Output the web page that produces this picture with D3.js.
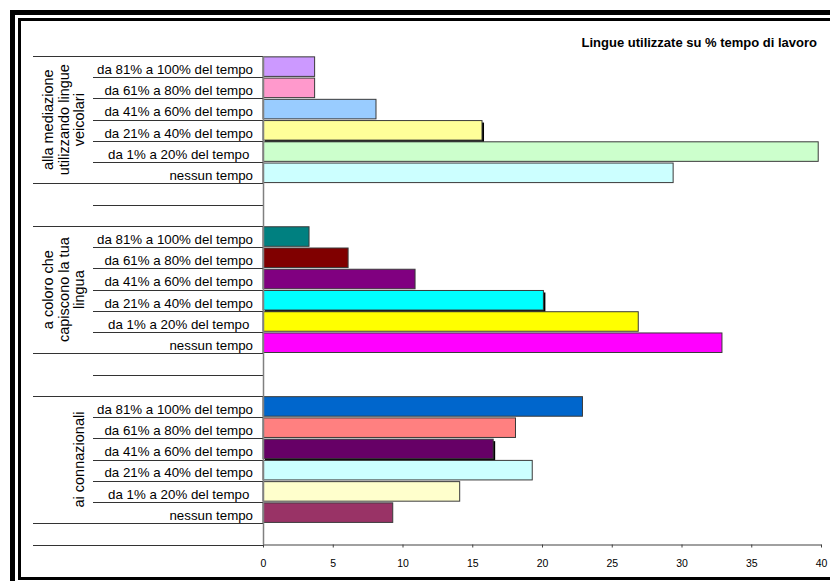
<!DOCTYPE html>
<html>
<head>
<meta charset="utf-8">
<script src="https://cdn.jsdelivr.net/npm/d3@7"></script>
<style>
  html, body { margin: 0; padding: 0; background: #fff; overflow: hidden; }
  svg { display: block; font-family: "Liberation Sans", Arial, sans-serif; }
</style>
</head>
<body>
<svg id="chart" width="830" height="581"></svg>
<script>
// Groups of respondents (top to bottom) and their wrapped labels
const groupNames = [
  "alla mediazione utilizzando lingue veicolari",
  "a coloro che capiscono la tua lingua",
  "ai connazionali"
];
const groupLabelLines = [
  ["alla mediazione", "utilizzando lingue", "veicolari"],
  ["a coloro che", "capiscono la tua", "lingua"],
  ["ai connazionali"]
];

// Share of working time (top to bottom inside each group)
const timeLevels = [
  "da 81% a 100% del tempo",
  "da 61% a 80% del tempo",
  "da 41% a 60% del tempo",
  "da 21% a 40% del tempo",
  "da 1% a 20% del tempo ",
  "nessun tempo"
];

// Percentages for each group, in the order of timeLevels
const valuesMediazione   = [3.7, 3.7, 8.1, 15.7, 39.8, 29.4];
const valuesCapiscono    = [3.3, 6.1, 10.9, 20.1, 26.9, 32.9];
const valuesConnazionali = [22.9, 18.1, 16.5, 19.3, 14.1, 9.3];
const groupValues = [valuesMediazione, valuesCapiscono, valuesConnazionali];

// Value axis tick labels
const tickValues = [0, 5, 10, 15, 20, 25, 30, 35, 40];

const title = "Lingue utilizzate su % tempo di lavoro";

// Fill colours per group, in the order of timeLevels
const coloursMediazione   = ["#CC99FF", "#FF99CC", "#99CCFF", "#FFFF99", "#CCFFCC", "#CCFFFF"];
const coloursCapiscono    = ["#008080", "#800000", "#800080", "#00FFFF", "#FFFF00", "#FF00FF"];
const coloursConnazionali = ["#0066CC", "#FF8080", "#660066", "#CCFFFF", "#FFFFCC", "#993366"];
const groupColours = [coloursMediazione, coloursCapiscono, coloursConnazionali];

// Bars drawn with a drop shadow: [group index, level index]
const shadowedBars = [[0, 3], [1, 3], [2, 2]];

// ---- category rows: each group, then blank spacer rows -----------------
// Spacer groups: two rows between groups, one row below the last group
const rows = [];
const spans = []; // {start, end, label lines or null}
groupNames.forEach((g, gi) => {
  const start = rows.length;
  timeLevels.forEach((lvl, li) => {
    rows.push({ key: "r" + rows.length, group: gi, level: li, label: lvl,
                value: groupValues[gi][li], colour: groupColours[gi][li] });
  });
  spans.push({ start, end: rows.length, lines: groupLabelLines[gi] });
  const blanks = gi < groupNames.length - 1 ? 2 : 1;
  const bStart = rows.length;
  for (let b = 0; b < blanks; b++) rows.push({ key: "r" + rows.length, blank: true });
  spans.push({ start: bStart, end: rows.length, lines: null });
});

const svg = d3.select("#chart");

// Double frame around the chart (right and lower outer edges run past the page)
svg.append("rect").attr("x", 12.5).attr("y", 12.5).attr("width", 900).attr("height", 600)
  .attr("fill", "none").attr("stroke", "#000").attr("stroke-width", 5);
svg.append("rect").attr("x", 19.5).attr("y", 19.5).attr("width", 890).attr("height", 559)
  .attr("fill", "none").attr("stroke", "#000").attr("stroke-width", 3);

const plotTop = 56, plotBottom = 544.5, plotLeft = 263, plotRight = 821;
const outerLeft = 33, innerLeft = 93;

const x = d3.scaleLinear().domain([0, 40]).range([plotLeft, plotRight]);
const y = d3.scaleBand().domain(rows.map(r => r.key)).range([plotTop, plotBottom])
  .paddingInner(0.08).paddingOuter(0.04);
const step = y.step();
const rowTop = i => plotTop + i * step;

// Title
svg.append("text")
  .attr("x", 817).attr("y", 47)
  .attr("text-anchor", "end")
  .attr("font-size", 13).attr("font-weight", "bold")
  .attr("fill", "#000")
  .text(title);

// Category separators: long lines at group boundaries, short ones inside
const boundaryIdx = new Set();
spans.forEach(s => { boundaryIdx.add(s.start); boundaryIdx.add(s.end); });
const sepLines = d3.range(rows.length + 1).map(i => ({ i, long: boundaryIdx.has(i) }));
svg.append("g").selectAll("line").data(sepLines).join("line")
  .attr("x1", d => d.long ? outerLeft : innerLeft)
  .attr("x2", plotLeft)
  .attr("y1", d => Math.round(rowTop(d.i)) + 0.5)
  .attr("y2", d => Math.round(rowTop(d.i)) + 0.5)
  .attr("stroke", "#333").attr("stroke-width", 1);

// Inner category labels
svg.append("g").selectAll("text").data(rows.filter(r => !r.blank)).join("text")
  .attr("x", 253)
  .attr("y", d => y(d.key) + y.bandwidth() / 2 + 7.3)
  .attr("text-anchor", "end")
  .attr("font-size", 13.3)
  .attr("fill", "#000")
  .style("white-space", "pre")
  .text(d => d.label);

// Rotated group labels
spans.filter(s => s.lines).forEach(s => {
  const cy = (rowTop(s.start) + rowTop(s.end)) / 2;
  const n = s.lines.length;
  s.lines.forEach((line, k) => {
    const bx = 84 - (n - 1 - k) * 15.5;
    svg.append("text")
      .attr("transform", `translate(${bx},${cy}) rotate(-90)`)
      .attr("text-anchor", "middle")
      .attr("font-size", 14.5)
      .attr("fill", "#000")
      .text(line);
  });
});

// Bars
const barRows = rows.filter(r => !r.blank);
const isShadowed = r => shadowedBars.some(([g, l]) => g === r.group && l === r.level);

svg.append("g").selectAll("rect").data(barRows.filter(isShadowed)).join("rect")
  .attr("x", x(0) + 2)
  .attr("y", d => y(d.key) + 2)
  .attr("width", d => x(d.value) - x(0))
  .attr("height", y.bandwidth())
  .attr("fill", "#000");

svg.append("g").selectAll("rect").data(barRows).join("rect")
  .attr("x", x(0))
  .attr("y", d => y(d.key))
  .attr("width", d => x(d.value) - x(0))
  .attr("height", y.bandwidth())
  .attr("fill", d => d.colour)
  .attr("stroke", "#3a3a3a").attr("stroke-width", 1);

// Vertical category axis line
svg.append("line")
  .attr("x1", plotLeft + 0.5).attr("x2", plotLeft + 0.5)
  .attr("y1", plotTop).attr("y2", plotBottom)
  .attr("stroke", "#808080").attr("stroke-width", 1.5);

// Value axis
const xAxis = d3.axisBottom(x)
  .tickValues(tickValues)
  .tickFormat(d3.format("d"))
  .tickSizeInner(3).tickSizeOuter(0).tickPadding(12);
const axisG = svg.append("g")
  .attr("transform", `translate(0,${plotBottom})`)
  .call(xAxis);
axisG.select(".domain").attr("stroke", "#808080").attr("stroke-width", 1.5);
axisG.selectAll(".tick line").attr("stroke", "#404040");
axisG.selectAll(".tick text")
  .attr("font-family", "Liberation Sans, Arial, sans-serif")
  .attr("font-size", 10.5).attr("fill", "#000");
</script>
</body>
</html>
